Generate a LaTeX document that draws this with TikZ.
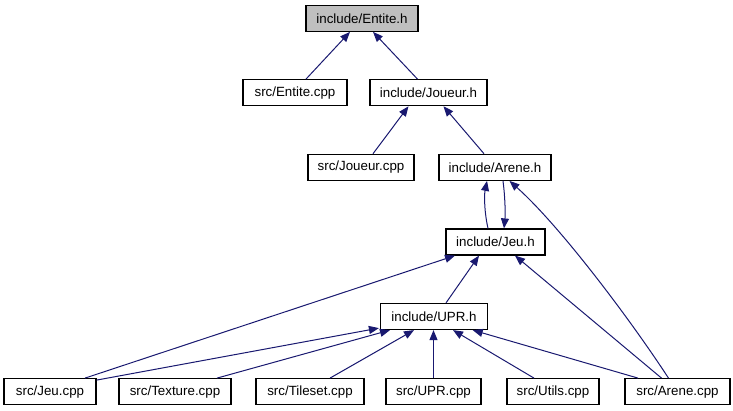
\documentclass[tikz,border=0pt]{standalone}
\usepackage{fontspec}
\setmainfont{Liberation Sans}
\usetikzlibrary{arrows.meta,calc}
\definecolor{edgeblue}{HTML}{191970}
\definecolor{rootgray}{HTML}{BFBFBF}
\begin{document}
\begin{tikzpicture}[x=0.75pt,y=-0.75pt,
  box/.style={draw=black,line width=0.9pt,fill=white,minimum height=19.5pt,inner sep=0pt,font=\fontsize{10}{12}\selectfont},
  dep/.style={draw=edgeblue,line width=0.75pt,-{Triangle[length=7.5pt,width=6pt]}}]
\useasboundingbox (0,0) rectangle (733,411);
\node[box,fill=rootgray,minimum width=84pt] (eh) at (362,18.3) {include/Entite.h};
\node[box,minimum width=78pt] (ecpp) at (295,92.7) {src/Entite.cpp};
\node[box,minimum width=87.75pt] (jh) at (428.5,92.7) {include/Joueur.h};
\node[box,minimum width=79.5pt] (jcpp) at (361,167.3) {src/Joueur.cpp};
\node[box,minimum width=84pt] (ah) at (495,167.3) {include/Arene.h};
\node[box,minimum width=74.25pt] (jeuh) at (495.5,242) {include/Jeu.h};
\node[box,minimum width=80.25pt] (uprh) at (434,316.5) {include/UPR.h};
\node[box,minimum width=69pt] (jeucpp) at (50,391.7) {src/Jeu.cpp};
\node[box,minimum width=84pt] (texcpp) at (175,391.7) {src/Texture.cpp};
\node[box,minimum width=81pt] (tilecpp) at (310,391.7) {src/Tileset.cpp};
\node[box,minimum width=71.25pt] (uprcpp) at (433.5,391.7) {src/UPR.cpp};
\node[box,minimum width=69pt] (utilcpp) at (553,391.7) {src/Utils.cpp};
\node[box,minimum width=78.75pt] (acpp) at (677.5,391.7) {src/Arene.cpp};

\draw[dep] ($(ecpp.north)+(11,0)$) -- ($(eh.south)+(-12,0)$);
\draw[dep] ($(jh.north)+(-11,0)$) -- ($(eh.south)+(11,0)$);
\draw[dep] ($(jcpp.north)+(12,0)$) -- ($(jh.south)+(-20,0)$);
\draw[dep] ($(ah.north)+(-11,0)$) -- ($(jh.south)+(15,0)$);
\draw[dep] ($(jeuh.north)+(-7.5,0)$) .. controls ($(jeuh.north)+(-11,-15)$) and ($(ah.south)+(-11,15)$) .. ($(ah.south)+(-8,0)$);
\draw[dep] ($(ah.south)+(8,0)$) .. controls ($(ah.south)+(10,15)$) and ($(jeuh.north)+(10,-15)$) .. ($(jeuh.north)+(8.5,0)$);
\draw[dep] ($(acpp.north)+(-9,0)$) .. controls ($(acpp.north)+(-47.5,-59)$) and ($(ah.south)+(65,45)$) .. ($(ah.south)+(14.5,0)$);
\draw[dep] ($(acpp.north)+(-16,0)$) -- ($(jeuh.south)+(19.5,0)$);
\draw[dep] ($(jeucpp.north)+(35,0)$) -- ($(jeuh.south)+(-40.5,0)$);
\draw[dep] ($(uprh.north)+(12,0)$) -- ($(jeuh.south)+(-16.5,0)$);
\draw[dep] ($(jeucpp.north east)+(0,2)$) -- ($(uprh.south west)+(-1,-2)$);
\draw[dep] ($(texcpp.north)+(42,0)$) -- ($(uprh.south)+(-44,0)$);
\draw[dep] ($(tilecpp.north)+(20,0)$) -- ($(uprh.south)+(-20,0)$);
\draw[dep] (uprcpp.north) -- (uprcpp.north |- uprh.south);
\draw[dep] ($(utilcpp.north)+(-19,0)$) -- ($(uprh.south)+(19,0)$);
\draw[dep] ($(acpp.north)+(-39.5,0)$) -- ($(uprh.south)+(38.7,0)$);
\end{tikzpicture}
\end{document}
